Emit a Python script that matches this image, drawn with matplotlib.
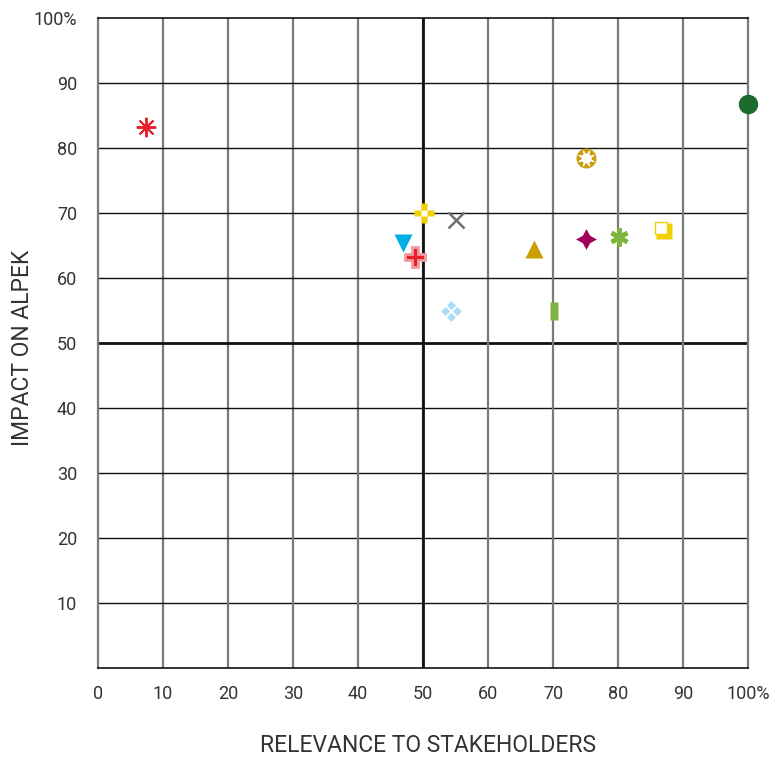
import matplotlib.pyplot as plt
import numpy as np
from matplotlib.path import Path

plt.rcParams['font.family'] = ['Roboto', 'DejaVu Sans']

# topic positions (relevance to stakeholders, impact on Alpek)
relevance = [7.4, 100, 75.1, 50.1, 55.1, 46.9, 48.8, 67.1, 75.1, 80.2, 86.8, 54.3, 70.2]
impact = [83.2, 86.8, 78.5, 70.0, 68.9, 65.4, 63.2, 64.5, 66.0, 66.3, 67.5, 54.9, 54.9]

xticks = [0, 10, 20, 30, 40, 50, 60, 70, 80, 90, 100]
xlabels = ['0', '10', '20', '30', '40', '50', '60', '70', '80', '90', '100%']
yticks = [10, 20, 30, 40, 50, 60, 70, 80, 90, 100]
ylabels = ['10', '20', '30', '40', '50', '60', '70', '80', '90', '100%']

# small custom marker shapes
def diamonds():
    verts, codes = [], []
    for cx, cy in [(0, 0.55), (0.55, 0), (0, -0.55), (-0.55, 0)]:
        d = 0.42
        verts += [(cx, cy + d), (cx + d, cy), (cx, cy - d), (cx - d, cy), (cx, cy + d)]
        codes += [Path.MOVETO, Path.LINETO, Path.LINETO, Path.LINETO, Path.CLOSEPOLY]
    return Path(verts, codes)

bar = [(-0.42, -1), (0.42, -1), (0.42, 1), (-0.42, 1), (-0.42, -1)]

fig = plt.figure(figsize=(7.73, 7.60), dpi=100)
ax = fig.add_axes([98 / 773, 92 / 760, 650 / 773, 650 / 760])

# grid
for v in range(10, 100, 10):
    ax.axvline(v, color='#7a7a7a', lw=1.6, zorder=1)
    ax.axhline(v, color='#111111', lw=1.0 if v != 50 else 2.0, zorder=1)
ax.axvline(50, color='#111111', lw=2.0, zorder=1.5)

for s in ['left', 'right']:
    ax.spines[s].set_color('#7a7a7a')
    ax.spines[s].set_linewidth(1.6)
for s in ['top', 'bottom']:
    ax.spines[s].set_color('#111111')
    ax.spines[s].set_linewidth(1.2)

x, y = relevance, impact
# 0 red asterisk
ax.plot(x[0], y[0], marker=(8, 2, 0), ms=14, mew=1.4, color='#e5202b', ls='none', zorder=5)
# 1 dark green circle
ax.plot(x[1], y[1], marker='o', ms=13, color='#1d6b2c', ls='none', zorder=5, clip_on=False)
# 2 gold ring
ax.plot(x[2], y[2], marker='o', ms=11, mfc='white', mec='#c9a010', mew=3.4, ls='none', zorder=5)
ax.plot(x[2], y[2], marker=(8, 2, 22.5), ms=12, mew=0.8, color='white', ls='none', zorder=6)
ax.plot(x[2], y[2], marker='o', ms=6.5, color='white', mec='none', ls='none', zorder=7)
# 3 yellow plus with white centre
ax.plot(x[3], y[3], marker='P', ms=14, color='#f0d000', mec='none', ls='none', zorder=5)
ax.plot(x[3], y[3], marker='s', ms=4, color='white', mec='none', ls='none', zorder=6)
# 4 gray x
ax.plot(x[4], y[4], marker='x', ms=11, mew=1.8, color='#707070', ls='none', zorder=5)
# 5 blue triangle down
ax.plot(x[5], y[5], marker='v', ms=13, color='#00aee6', mec='none', ls='none', zorder=5)
# 6 red cross with pale outline
ax.plot(x[6], y[6], marker='P', ms=14, color='#e5202b', mec='#f29aa0', mew=2.0, ls='none', zorder=6)
# 7 gold triangle
ax.plot(x[7], y[7], marker='^', ms=13, color='#c9a000', mec='none', ls='none', zorder=5)
# 8 purple star
ax.plot(x[8], y[8], marker=(4, 1, 0), ms=15, color='#a3005c', mec='none', ls='none', zorder=5)
# 9 green asterisk
ax.plot(x[9], y[9], marker=(6, 2, 0), ms=13, mew=3.2, color='#7db53e', ls='none', zorder=5)
# 10 yellow square with shadow
ax.plot(x[10] + 0.25, y[10] - 0.25, marker='s', ms=11, color='#f0d000', mec='none', ls='none', zorder=5)
ax.plot(x[10] - 0.2, y[10] + 0.2, marker='s', ms=9, mfc='white', mec='#f0d000', mew=1.0, ls='none', zorder=6)
# 11 light blue diamonds
ax.plot(x[11], y[11], marker=diamonds(), ms=15, color='#a9dcf5', mec='none', ls='none', zorder=5)
# 12 green bar
ax.plot(x[12], y[12], marker=bar, ms=13, color='#7db53e', mec='none', ls='none', zorder=5)

ax.set_xlim(0, 100)
ax.set_ylim(0, 100)
ax.set_xticks(xticks, xlabels)
ax.set_yticks(yticks, ylabels)
ax.tick_params(length=0, labelsize=13, labelcolor='#333333')
ax.tick_params(axis='x', pad=12)
ax.tick_params(axis='y', pad=15)
fig.text(428 / 773, 1 - 746 / 760, 'RELEVANCE TO STAKEHOLDERS', fontsize=16.5, color='#333333',
         ha='center', va='center')
fig.text(23 / 773, 1 - 348 / 760, 'IMPACT ON ALPEK', fontsize=16.5, color='#333333',
         ha='center', va='center', rotation=90)

fig.savefig('out.png', dpi=100)
